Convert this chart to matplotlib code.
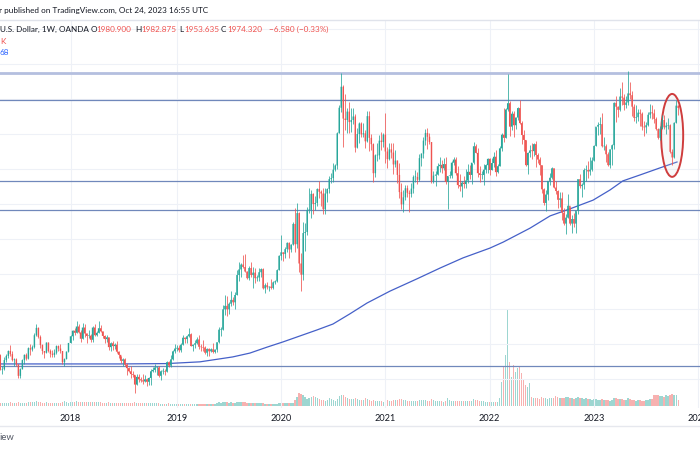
import matplotlib
matplotlib.use("Agg")
import matplotlib.pyplot as plt
import matplotlib.dates as mdates
from matplotlib.patches import Ellipse
from matplotlib.lines import Line2D
import numpy as np
import pandas as pd

plt.rcParams['font.family'] = ['Lato', 'DejaVu Sans']

# ---------------- data (weekly XAU/USD, OANDA) ----------------
first_open = 1284
start_week = '2017-04-24'

close_2017 = [1268,1227,1228,1254,1266,1280,1271,1254,1256,1242,1209,1228,1254,1269,1258,1288,1284,1291,1325,1346,1320,1297,1280,1275,1304,1280,1272,1269,1275,1294,1287,1280,1248,1257,1278,1303]
high_2017 = [1285,1270,1236,1263,1270,1283,1296,1281,1260,1260,1242,1230,1256,1270,1274,1291,1300,1298,1330,1357,1348,1326,1300,1281,1306,1306,1286,1283,1287,1297,1298,1299,1280,1260,1279,1303]
low_2017 = [1261,1226,1214,1226,1248,1259,1267,1250,1237,1236,1204,1204,1228,1243,1254,1256,1268,1280,1288,1324,1316,1288,1271,1260,1275,1277,1263,1264,1264,1272,1279,1275,1244,1236,1256,1277]
vol_2017 = [30,30,35,30,30,35,40,35,30,30,40,35,30,30,30,40,45,40,45,50,45,40,35,35,40,35,30,30,30,35,35,35,45,50,40,30]

close_2018 = [1322,1338,1332,1350,1333,1315,1347,1330,1323,1324,1312,1347,1325,1332,1345,1336,1323,1314,1319,1291,1302,1294,1298,1278,1269,1252,1256,1241,1231,1222,1214,1212,1184,1206,1199,1196,1193,1199,1192,1203,1222,1226,1233,1233,1209,1222,1222,1221,1248,1238,1256,1279,1287]
high_2018 = [1325,1340,1345,1366,1356,1340,1361,1356,1332,1341,1328,1350,1356,1337,1365,1354,1336,1325,1326,1319,1307,1308,1303,1309,1280,1267,1261,1260,1245,1234,1236,1222,1212,1215,1213,1206,1213,1211,1204,1207,1229,1233,1243,1237,1237,1226,1231,1229,1250,1251,1268,1283,1299]
low_2018 = [1302,1312,1325,1330,1331,1307,1315,1321,1303,1316,1307,1307,1322,1322,1331,1333,1316,1302,1306,1282,1280,1282,1286,1274,1261,1245,1237,1237,1211,1219,1204,1205,1160,1183,1191,1191,1187,1191,1180,1182,1183,1220,1220,1211,1207,1196,1215,1212,1221,1233,1235,1255,1275]
vol_2018 = [45,40,45,50,45,45,40,40,40,45,40,40,40,45,40,40,35,35,35,40,35,35,35,35,35,35,35,30,35,35,30,35,40,35,30,30,30,30,30,30,30,30,30,30,30,25,25,25,25,30,25,25,25]

close_2019 = [1289,1282,1298,1318,1314,1322,1328,1294,1298,1302,1313,1292,1291,1290,1275,1286,1279,1285,1277,1284,1305,1341,1341,1399,1409,1399,1415,1426,1419,1440,1497,1513,1527,1520,1507,1488,1517,1497,1504,1488,1490,1505,1514,1459,1468,1462,1464,1460,1476,1479,1511,1552]
high_2019 = [1297,1298,1303,1326,1320,1327,1346,1331,1300,1311,1321,1325,1300,1310,1293,1289,1289,1289,1303,1287,1306,1348,1348,1411,1439,1437,1419,1452,1433,1449,1510,1535,1531,1555,1557,1509,1524,1535,1519,1516,1498,1518,1516,1516,1475,1477,1466,1485,1481,1483,1514,1553]
low_2019 = [1279,1276,1277,1297,1303,1302,1320,1294,1280,1289,1299,1287,1281,1281,1270,1266,1266,1277,1275,1273,1276,1304,1323,1340,1382,1381,1386,1409,1411,1400,1440,1480,1492,1516,1505,1485,1484,1490,1459,1474,1479,1481,1492,1456,1445,1456,1451,1457,1458,1471,1478,1510]
vol_2019 = [25,25,25,25,25,25,25,25,25,25,25,25,25,25,20,20,25,25,25,25,30,40,35,45,45,40,35,40,35,35,45,45,40,40,40,35,35,35,35,30,30,30,30,30,25,25,25,25,25,25,25,35]

close_2020 = [1562,1557,1571,1589,1570,1584,1643,1585,1674,1530,1498,1617,1620,1683,1683,1729,1700,1703,1743,1735,1730,1685,1730,1743,1771,1774,1798,1810,1902,1975,2035,1944,1940,1964,1934,1940,1950,1861,1900,1930,1899,1902,1879,1951,1889,1871,1788,1839,1839,1881,1877,1898]
high_2020 = [1611,1563,1576,1592,1592,1585,1649,1689,1703,1677,1560,1648,1645,1690,1747,1739,1730,1722,1745,1765,1739,1745,1745,1745,1779,1789,1818,1815,1907,1984,2075,2040,2015,1975,1992,1973,1973,1956,1918,1933,1933,1932,1910,1965,1965,1899,1875,1842,1875,1896,1906,1902]
low_2020 = [1541,1536,1547,1564,1547,1562,1583,1563,1575,1505,1451,1482,1567,1611,1675,1660,1670,1683,1693,1717,1693,1670,1671,1705,1732,1760,1763,1795,1801,1902,1963,1863,1911,1902,1902,1906,1929,1849,1859,1873,1892,1891,1860,1877,1850,1853,1764,1776,1822,1829,1855,1864]
vol_2020 = [35,30,30,30,30,30,35,60,90,130,120,110,95,70,80,90,100,90,80,70,60,60,55,60,80,70,60,55,70,100,115,110,95,85,70,70,75,80,70,60,60,65,85,75,60,55,60,55,55,55,50,45]

close_2021 = [1850,1828,1856,1847,1813,1824,1783,1734,1699,1719,1745,1732,1729,1744,1777,1777,1769,1831,1844,1881,1903,1892,1877,1764,1781,1784,1808,1812,1802,1814,1763,1780,1781,1818,1827,1788,1754,1750,1761,1757,1767,1792,1783,1818,1865,1846,1788,1783,1783,1798,1811,1829]
high_2021 = [1959,1864,1875,1875,1875,1855,1826,1816,1759,1740,1755,1755,1740,1759,1783,1797,1790,1843,1845,1890,1913,1916,1903,1877,1795,1795,1818,1834,1825,1832,1833,1781,1795,1823,1834,1834,1809,1787,1765,1781,1801,1814,1810,1818,1877,1870,1860,1808,1793,1815,1815,1832]
low_2021 = [1817,1803,1827,1831,1785,1806,1760,1716,1687,1676,1712,1720,1677,1721,1731,1764,1756,1766,1808,1832,1868,1856,1870,1761,1761,1750,1784,1791,1789,1796,1758,1687,1775,1773,1810,1783,1745,1737,1721,1746,1746,1760,1772,1758,1813,1846,1778,1762,1771,1753,1789,1789]
vol_2021 = [75,65,55,50,60,60,60,70,75,65,60,55,50,55,55,50,55,65,60,65,60,55,50,75,60,50,50,55,50,45,55,80,60,50,55,50,55,50,55,50,50,50,50,55,75,60,60,55,50,55,45,40]

close_2022 = [1797,1817,1835,1791,1808,1859,1898,1889,1970,1988,1921,1958,1925,1947,1974,1931,1897,1883,1811,1846,1853,1851,1871,1840,1827,1811,1742,1703,1727,1766,1775,1802,1747,1737,1712,1716,1675,1644,1661,1695,1644,1657,1644,1681,1771,1751,1755,1797,1797,1793,1798,1824]
high_2022 = [1831,1830,1848,1853,1815,1865,1902,1974,1974,2070,1994,1966,1966,1948,1978,1998,1936,1910,1884,1849,1869,1874,1875,1880,1847,1833,1812,1746,1739,1767,1788,1807,1802,1765,1739,1735,1735,1688,1672,1729,1692,1669,1675,1681,1772,1786,1761,1804,1810,1824,1833,1833]
low_2022 = [1782,1796,1805,1780,1788,1809,1851,1878,1889,1967,1895,1910,1890,1915,1941,1929,1872,1850,1808,1787,1833,1829,1836,1806,1816,1784,1732,1697,1681,1711,1754,1771,1745,1728,1688,1691,1654,1639,1615,1661,1641,1617,1633,1616,1672,1747,1721,1743,1765,1774,1784,1795]
vol_2022 = [45,45,45,45,40,80,240,390,510,970,440,290,410,340,380,390,330,270,210,190,230,90,80,85,80,75,90,85,80,75,80,80,85,100,90,85,80,85,90,95,85,80,75,80,90,85,80,75,85,70,70,65]

close_2023 = [1866,1921,1926,1928,1865,1865,1842,1811,1856,1868,1989,1978,1969,2007,2004,1983,1990,2016,2011,1978,1946,1948,1961,1958,1921,1919,1925,1955,1962,1959,1943,1914,1889,1915,1940,1919,1924,1925,1849,1833,1932,1981,1974.32]
high_2023 = [1869,1921,1935,1949,1959,1890,1870,1848,1858,1870,1990,2009,1980,2032,2048,2015,2009,2079,2048,2023,1985,1983,1971,1971,1963,1937,1935,1963,1987,1982,1972,1948,1916,1924,1953,1953,1933,1947,1929,1858,1933,1997,1982.875]
low_2023 = [1824,1865,1896,1900,1862,1855,1819,1809,1804,1810,1858,1934,1949,1967,1982,1969,1974,1982,2000,1952,1937,1932,1938,1924,1910,1893,1902,1922,1945,1943,1930,1912,1885,1884,1913,1915,1901,1913,1846,1810,1832,1932,1953.635]
vol_2023 = [70,75,65,60,70,65,60,60,55,60,85,80,70,75,70,60,60,80,70,65,60,55,60,60,55,50,60,65,75,70,110,115,110,105,100,95,110,100,115,120,115,110,60]

# 200-week moving average
ma_dates = ['2017-04-30','2017-11-25','2018-06-22','2018-12-03','2019-03-29','2019-07-21',
            '2019-09-19','2019-11-18','2020-01-13','2020-03-12','2020-05-10','2020-07-05',
            '2020-09-02','2020-11-01','2021-01-20','2021-04-24','2021-07-14','2021-10-02',
            '2022-01-04','2022-02-19','2022-05-24','2022-08-02','2022-10-10','2022-12-30',
            '2023-02-27','2023-04-13','2023-06-12','2023-08-20','2023-10-19']
ma_values = [1243,1243,1243,1244,1249,1263,1274,1291,1306,1323,1340,1357,1386,1417,
             1451,1486,1517,1546,1574,1591,1631,1666,1686,1711,1740,1766,1783,1803,1820]

# drawn horizontal levels
levels = [2074, 1997, 1766, 1683, 1236]

year_tick_dates = ['2018-01-01','2019-01-07','2020-01-06','2021-01-04','2022-01-03','2023-01-02','2024-01-01']
year_tick_labels = ['2018','2019','2020','2021','2022','2023','2024']

# ---------------- assemble ----------------
closes = np.array(close_2017+close_2018+close_2019+close_2020+close_2021+close_2022+close_2023, float)
highs = np.array(high_2017+high_2018+high_2019+high_2020+high_2021+high_2022+high_2023, float)
lows = np.array(low_2017+low_2018+low_2019+low_2020+low_2021+low_2022+low_2023, float)
vols = np.array(vol_2017+vol_2018+vol_2019+vol_2020+vol_2021+vol_2022+vol_2023, float)
opens = np.concatenate([[first_open], closes[:-1]])
opens[-1] = 1980.9

dates = pd.date_range(start_week, periods=len(closes), freq='W-MON')
x = mdates.date2num(dates)

UP = '#26a69a'
DN = '#ef5350'
up = closes >= opens
cols = [UP if u else DN for u in up]
vcols = [(0.149, 0.651, 0.604, 0.45) if u else (0.937, 0.325, 0.314, 0.45) for u in up]

W, H = 700, 450
fig = plt.figure(figsize=(7, 4.5), dpi=100)
fig.patch.set_facecolor('white')
ax = fig.add_axes([0, 42 / H, 1, 388 / H])
vax = ax.twinx()
ax.set_zorder(vax.get_zorder() + 1)
ax.patch.set_visible(False)

px_per_day = 0.2865
x_left = mdates.date2num(pd.Timestamp('2018-01-01')) - 70.5 / px_per_day
ax.set_xlim(x_left, x_left + W / px_per_day)
ax.set_ylim(1117.1, 2225.7)

# grid
for yv in range(1200, 2300, 100):
    ax.axhline(yv, color='#eef1f7', lw=0.8, zorder=0)
tick_x = mdates.date2num(pd.to_datetime(year_tick_dates))
for tx in tick_x:
    ax.axvline(tx, color='#eef1f7', lw=0.8, zorder=0)

# volume
vax.bar(x, vols, width=4.6, color=vcols, linewidth=0)
vax.set_ylim(-20, 3860)
vax.set_yticks([])
for s in vax.spines.values():
    s.set_visible(False)

# levels
ax.axhline(levels[0], color='#b4bfdf', lw=2.0, zorder=1)
for lv in levels[1:]:
    ax.axhline(lv, color='#7088bb', lw=0.9, zorder=1)

# moving average
ax.plot(mdates.date2num(pd.to_datetime(ma_dates)), ma_values, color='#4560c8', lw=0.9, zorder=2)

# ellipse annotation
ell = Ellipse((mdates.date2num(pd.Timestamp('2023-10-02')), 1896), width=77, height=237,
              facecolor=(0.85, 0.85, 0.85, 0.18), edgecolor='#cf3d3d', lw=1.4, zorder=2)
ax.add_patch(ell)

# candles
ax.vlines(x, lows, highs, colors=cols, lw=0.55, zorder=3)
body_lo = np.minimum(opens, closes)
body_h = np.maximum(np.abs(closes - opens), 1.5)
ax.bar(x, body_h, bottom=body_lo, width=5.0, color=cols, edgecolor='none',
       linewidth=0, zorder=4, snap=False)

ax.set_xticks(tick_x)
ax.set_xticklabels(year_tick_labels)
ax.tick_params(axis='x', length=0, pad=4.5, labelsize=6.6, labelcolor='#131722')
ax.set_yticks([])
for s in ax.spines.values():
    s.set_visible(False)

# header / footer
def fy(py):
    return 1 - py / H

fig.add_artist(Line2D([0, 1], [fy(20), fy(20)], color='#e0e3eb', lw=1.0))
fig.add_artist(Line2D([0, 1], [fy(426), fy(426)], color='#e6e8ee', lw=1.0))

dark = '#131722'
red = '#ef5350'
fs = 5.9
fig.text(-0.002, fy(10.5), 'r published on TradingView.com, Oct 24, 2023 16:55 UTC',
         fontsize=fs, color=dark, va='center', ha='left')
segs = [(0, 'U.S. Dollar, 1W, OANDA', dark), (90.5, 'O', dark), (96, '1980.900', red),
        (135, 'H', dark), (141, '1982.875', red), (179, 'L', dark), (184, '1953.635', red),
        (221, 'C', dark), (227, '1974.320', red), (269, '\u22126.580 (\u22120.33%)', red)]
for px, t, c in segs:
    fig.text(px / W, fy(29), t, fontsize=fs, color=c, va='center', ha='left')
fig.text(0, fy(41), 'K', fontsize=fs, color=red, va='center', ha='left')
fig.text(0, fy(52.5), '68', fontsize=fs, color='#2962ff', va='center', ha='left')
fig.text(-0.001, fy(437.5), 'iew', fontsize=6.8, color='#555a66', va='center', ha='left')

fig.savefig('out.png', dpi=100, facecolor='white')
